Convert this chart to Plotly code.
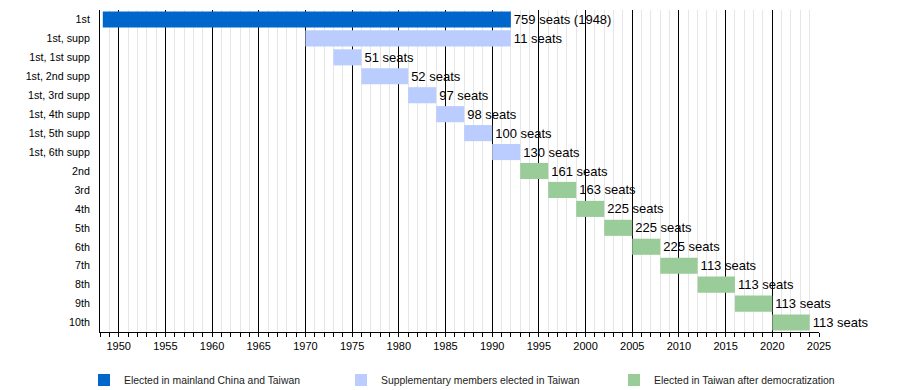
import plotly.graph_objects as go

categories = ["1st", "1st, supp", "1st, 1st supp", "1st, 2nd supp", "1st, 3rd supp",
              "1st, 4th supp", "1st, 5th supp", "1st, 6th supp", "2nd", "3rd", "4th",
              "5th", "6th", "7th", "8th", "9th", "10th"]
starts = [1948.3, 1970, 1973, 1976, 1981, 1984, 1987, 1990, 1993, 1996, 1999,
          2002, 2005, 2008, 2012, 2016, 2020]
ends = [1992, 1992, 1976, 1981, 1984, 1987, 1990, 1993, 1996, 1999, 2002,
        2005, 2008, 2012, 2016, 2020, 2024]
labels = ["759 seats (1948)", "11 seats", "51 seats", "52 seats", "97 seats", "98 seats",
          "100 seats", "130 seats", "161 seats", "163 seats", "225 seats", "225 seats",
          "225 seats", "113 seats", "113 seats", "113 seats", "113 seats"]
groups = ["main", "supp", "supp", "supp", "supp", "supp", "supp", "supp",
          "demo", "demo", "demo", "demo", "demo", "demo", "demo", "demo", "demo"]

group_names = {"main": "Elected in mainland China and Taiwan",
               "supp": "Supplementary members elected in Taiwan",
               "demo": "Elected in Taiwan after democratization"}
group_colors = {"main": "#0066CC", "supp": "#BBCCFF", "demo": "#99CC99"}
legend_ids = {"main": "legend", "supp": "legend2", "demo": "legend3"}

FONT = "Liberation Sans, Arial, sans-serif"

fig = go.Figure()
for g in ["main", "supp", "demo"]:
    idx = [i for i, gg in enumerate(groups) if gg == g]
    fig.add_trace(go.Bar(
        orientation="h",
        y=[categories[i] for i in idx],
        base=[starts[i] for i in idx],
        x=[ends[i] - starts[i] for i in idx],
        text=[labels[i] for i in idx],
        textposition="outside",
        constraintext="none",
        outsidetextfont=dict(family=FONT, size=13, color="black"),
        cliponaxis=False,
        marker=dict(color=group_colors[g], line=dict(width=0)),
        width=0.85,
        name=group_names[g],
        legend=legend_ids[g],
        hoverinfo="skip",
    ))

legend_common = dict(orientation="h", xref="container", yref="container",
                     yanchor="middle", xanchor="left",
                     font=dict(family=FONT, size=10.4, color="#222"),
                     bgcolor="rgba(0,0,0,0)", borderwidth=0)
LY = 1 - 372 / 390
fig.update_layout(
    width=900, height=390,
    margin=dict(l=92, r=89, t=2, b=66, autoexpand=False),
    plot_bgcolor="white", paper_bgcolor="white",
    barmode="overlay",
    font=dict(family=FONT, size=11, color="black"),
    showlegend=True,
    legend=dict(x=76 / 900, y=LY, **legend_common),
    legend2=dict(x=333 / 900, y=LY, **legend_common),
    legend3=dict(x=606 / 900, y=LY, **legend_common),
    xaxis=dict(
        range=[1948, 2025], tick0=1950, dtick=5,
        showgrid=True, gridcolor="black", gridwidth=1,
        showline=True, linecolor="black", linewidth=1,
        ticks="outside", ticklen=4, tickcolor="black",
        tickfont=dict(family=FONT, size=11, color="black"),
        minor=dict(dtick=1, tick0=1948, showgrid=True, gridcolor="#e6e6e6",
                   ticks="outside", ticklen=4, tickcolor="black"),
        zeroline=False, fixedrange=True, automargin=False,
    ),
    yaxis=dict(
        type="category", categoryarray=categories,
        range=[16.5, -0.5],
        showgrid=False, showline=True, linecolor="black", linewidth=1,
        ticks="", ticklabelstandoff=7,
        tickfont=dict(family=FONT, size=10.7, color="black"),
        zeroline=False, fixedrange=True, automargin=False,
    ),
)

fig.write_html("out.html")
